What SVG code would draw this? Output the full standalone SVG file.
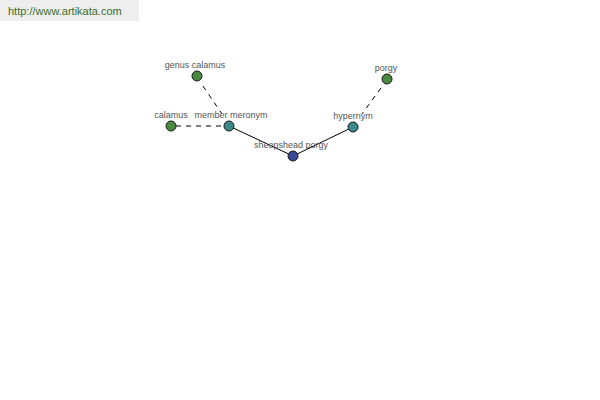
<svg xmlns="http://www.w3.org/2000/svg" width="600" height="400" viewBox="0 0 600 400">
<style>
.lbl{font-family:"Liberation Sans",Arial,sans-serif;font-size:9px;fill:#555;text-anchor:middle}
.n{stroke:#1a1a1a;stroke-width:1}
.g{fill:#4a8a3e}
.t{fill:#3a8a88}
.b{fill:#3a4896}
.e{stroke:#000;stroke-width:1;fill:none}
.d{stroke-dasharray:5,5}
</style>
<rect x="0" y="0" width="139" height="21" fill="#eeeeee"/>
<text x="8" y="15" font-family="Liberation Sans,Arial,sans-serif" font-size="11" fill="#3a6e2a">http://www.artikata.com</text>
<g id="connectors">
<line class="e d" x1="203" y1="86" x2="222" y2="114"/>
<line class="e d" x1="176" y1="126" x2="224" y2="126"/>
<line class="e" x1="229" y1="126" x2="293" y2="156"/>
<line class="e" x1="293" y1="156" x2="353" y2="127"/>
<line class="e d" x1="381" y1="88" x2="362" y2="114"/>
</g>
<g id="genus-calamus"><circle class="n g" cx="197" cy="76" r="5"/><text class="lbl" x="195" y="68">genus calamus</text></g>
<g id="calamus"><circle class="n g" cx="171" cy="126" r="5"/><text class="lbl" x="171" y="118">calamus</text></g>
<g id="member-meronym"><circle class="n t" cx="229" cy="126" r="5"/><text class="lbl" x="231" y="118">member meronym</text></g>
<g id="sheepshead-porgy"><circle class="n b" cx="293" cy="156" r="5"/><text class="lbl" x="291" y="148">sheepshead porgy</text></g>
<g id="hypernym"><circle class="n t" cx="353" cy="127" r="5"/><text class="lbl" x="353" y="119">hypernym</text></g>
<g id="porgy"><circle class="n g" cx="387" cy="79" r="5"/><text class="lbl" x="386" y="71">porgy</text></g>
</svg>
